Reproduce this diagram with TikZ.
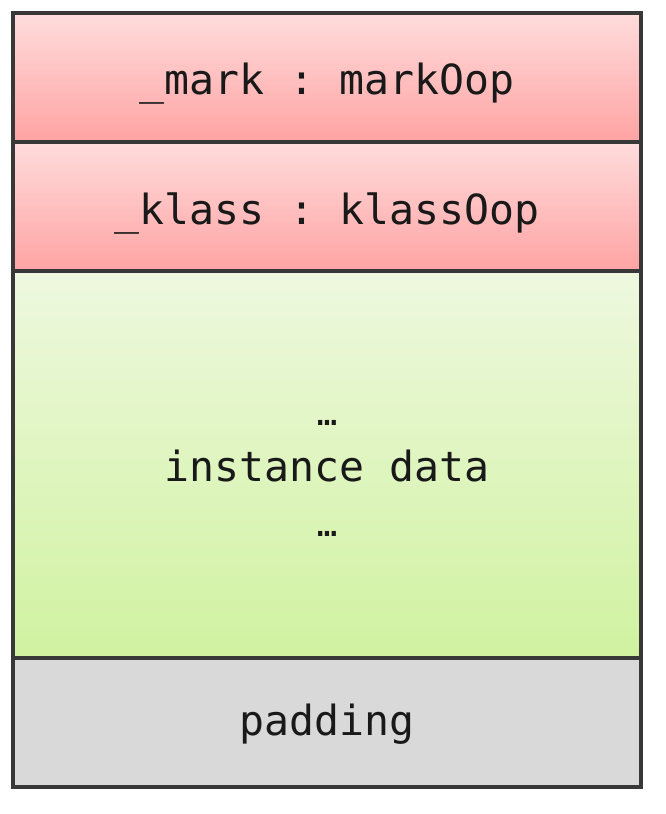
\documentclass[tikz,border=0pt]{standalone}
\usepackage{fontspec}
\setmonofont{DejaVu Sans Mono}
\definecolor{redtop}{HTML}{FFDCDC}
\definecolor{redbot}{HTML}{FFA3A3}
\definecolor{greentop}{HTML}{EEF8DF}
\definecolor{greenbot}{HTML}{D0F2A0}
\definecolor{padgray}{HTML}{D9D9D9}
\definecolor{edge}{HTML}{383838}
\begin{document}
\begin{tikzpicture}[x=1pt,y=1pt,
  row/.style={draw=edge, line width=3.4pt, minimum width=628pt, inner sep=0pt, outer sep=0pt},
  redrow/.style={row, top color=redtop, bottom color=redbot},
  label/.style={anchor=base, inner sep=0pt, font=\ttfamily\fontsize{41.5}{50}\selectfont, text=black!90}]
\useasboundingbox (0,0) rectangle (666,814);
\fill[white] (0,0) rectangle (666,814);
\node[redrow, minimum height=129pt] (mark) at (327,736.5) {};
\node[redrow, minimum height=129pt] (klass) at (327,607.5) {};
\node[row, top color=greentop, bottom color=greenbot, minimum height=387pt] (data) at (327,349.5) {};
\node[row, fill=padgray, minimum height=129pt] (pad) at (327,91.5) {};
\node[label] (markt) at (327,719) {\_mark : markOop};
\node[label] (klasst) at (327,589) {\_klass : klassOop};
\node[label, font=\ttfamily\fontsize{34}{40}\selectfont] (dots1) at (327,388) {…};
\node[label] (datat) at (327,332) {instance data};
\node[label, font=\ttfamily\fontsize{34}{40}\selectfont] (dots2) at (327,277) {…};
\node[label] (padt) at (327,78) {padding};
\end{tikzpicture}
\end{document}
